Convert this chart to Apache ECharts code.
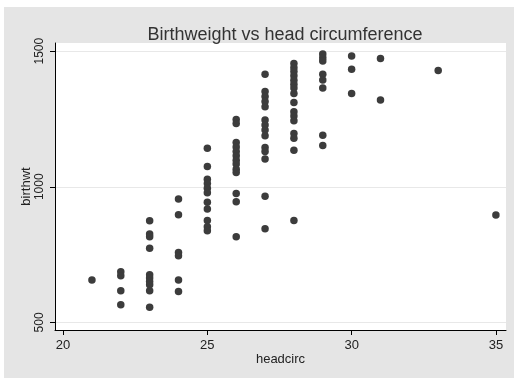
<!DOCTYPE html>
<html>
<head>
<meta charset="utf-8">
<script src="https://cdn.jsdelivr.net/npm/echarts@6/dist/echarts.min.js"></script>
<style>
html,body{margin:0;padding:0;background:#ffffff;}
#chart{width:514px;height:379px;}
</style>
</head>
<body>
<div id="chart"></div>
<script>
var titleText = "Birthweight vs head circumference";
var xName = "headcirc";
var yName = "birthwt";
var xTicks = [20, 25, 30, 35];
var yTicks = [500, 1000, 1500];

var headcirc = [
  21,
  22, 22, 22, 22,
  23, 23, 23, 23, 23, 23, 23, 23, 23, 23,
  24, 24, 24, 24, 24, 24,
  25, 25, 25, 25, 25, 25, 25, 25, 25, 25, 25,
  26, 26, 26, 26, 26, 26, 26, 26, 26, 26, 26, 26, 26,
  27, 27, 27, 27, 27, 27, 27, 27, 27, 27, 27, 27, 27, 27,
  28, 28, 28, 28, 28, 28, 28, 28, 28, 28, 28, 28, 28, 28, 28, 28,
  29, 29, 29, 29, 29, 29, 29, 29,
  30, 30, 30,
  31, 31,
  33,
  35
];
var birthwt = [
  656,
  687, 672, 617, 565,
  875, 826, 816, 773, 676, 664, 651, 639, 617, 556,
  955, 897, 758, 746, 656, 614,
  1142, 1075, 1028, 1012, 995, 978, 943, 918, 876, 853, 838,
  1248, 1233, 1163, 1147, 1130, 1114, 1098, 1084, 1065, 1053, 975, 945, 816,
  1415, 1351, 1333, 1314, 1295, 1246, 1228, 1209, 1188, 1145, 1130, 1102, 965, 845,
  1454, 1439, 1425, 1409, 1393, 1378, 1364, 1344, 1311, 1277, 1261, 1243, 1196, 1179, 1135, 876,
  1489, 1476, 1464, 1415, 1394, 1364, 1190, 1152,
  1482, 1433, 1344,
  1473, 1320,
  1429,
  896
];

var points = headcirc.map(function (h, i) { return [h, birthwt[i]]; });

var chart = echarts.init(document.getElementById('chart'), null, {renderer: 'canvas'});
var font = 'Liberation Sans, Arial, sans-serif';
chart.setOption({
  animation: false,
  backgroundColor: '#ffffff',
  graphic: [{
    type: 'rect', z: -10, silent: true,
    shape: {x: 4, y: 7, width: 510, height: 371},
    style: {fill: '#e5e5e5'}
  }],
  title: {
    text: titleText,
    left: 280, textAlign: 'center', top: 21,
    textStyle: {fontFamily: font, fontSize: 18, fontWeight: 'normal', color: '#333333'}
  },
  grid: {
    left: 55, top: 43, width: 451, height: 287,
    show: true, backgroundColor: '#ffffff', borderWidth: 0
  },
  xAxis: {
    type: 'value', min: 19.72, max: 35.35,
    name: xName, nameLocation: 'middle', nameGap: 23, nameMoveOverlap: false,
    nameTextStyle: {fontFamily: font, fontSize: 13, color: '#222222'},
    axisLine: {show: true, onZero: false, lineStyle: {color: '#000000', width: 1}},
    axisTick: {show: true, customValues: xTicks, length: 5, inside: false, lineStyle: {color: '#000000'}},
    axisLabel: {customValues: xTicks, margin: 9, fontFamily: font, fontSize: 13, color: '#222222',
      formatter: function (v) { return String(v); }},
    splitLine: {show: false}
  },
  yAxis: {
    type: 'value', min: 472, max: 1530,
    name: yName, nameLocation: 'middle', nameGap: 22, nameRotate: 90, nameMoveOverlap: false,
    nameTextStyle: {fontFamily: font, fontSize: 13, color: '#222222'},
    axisLine: {show: true, onZero: false, lineStyle: {color: '#000000', width: 1}},
    axisTick: {show: true, customValues: yTicks, length: 5, inside: false, lineStyle: {color: '#000000'}},
    axisLabel: {customValues: yTicks, rotate: 90, margin: 9, fontFamily: font, fontSize: 12, color: '#222222',
      formatter: function (v) { return String(v); }},
    splitLine: {show: true, lineStyle: {color: '#e8e8e8', width: 1}}
  },
  series: [{
    type: 'scatter',
    data: points,
    symbol: 'circle',
    symbolSize: 7.5,
    itemStyle: {color: '#3c3c3c', opacity: 1},
    silent: true
  }]
});
</script>
</body>
</html>
